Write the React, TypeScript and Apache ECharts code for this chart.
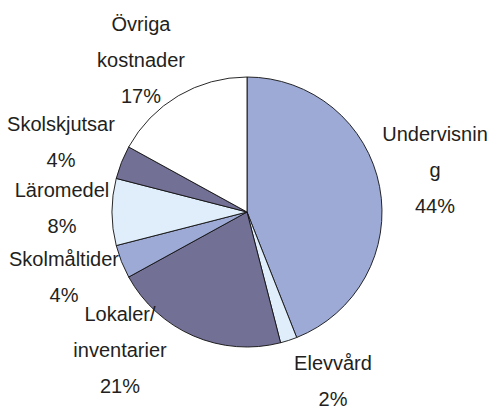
import React, { useEffect, useRef } from "react";
import * as echarts from "echarts";

const categories = [
  "Undervisnin\ng",
  "Elevvård",
  "Lokaler/\ninventarier",
  "Skolmåltider",
  "Läromedel",
  "Skolskjutsar",
  "Övriga\nkostnader",
];
const shares = [44, 2, 21, 4, 8, 4, 17];
const sliceColors = ["#9DAAD6", "#DFEEFA", "#737096", "#9DAAD6", "#DFEEFA", "#737096", "#FFFFFF"];
const labelCenters: [number, number][] = [
  [435, 170],
  [333, 381],
  [120, 350],
  [64, 277],
  [62, 208],
  [61, 142],
  [141, 60],
];

export default function App() {
  const ref = useRef<HTMLDivElement>(null);
  useEffect(() => {
    if (!ref.current) return;
    const chart = echarts.init(ref.current, undefined, { renderer: "svg" });
    chart.setOption({
      animation: false,
      backgroundColor: "#FFFFFF",
      series: [
        {
          type: "pie",
          center: [247, 212],
          radius: 135,
          startAngle: 90,
          clockwise: true,
          avoidLabelOverlap: false,
          itemStyle: { borderColor: "#111", borderWidth: 0.9 },
          label: {
            show: true,
            position: "outside",
            fontFamily: "'Liberation Sans', Arial, sans-serif",
            fontSize: 20,
            lineHeight: 36,
            color: "#231F20",
            align: "center",
            formatter: (p: any) => `${p.name}\n${Math.round(p.percent)}%`,
          },
          labelLine: { show: false },
          labelLayout: (p: any) => {
            const c = labelCenters[p.dataIndex];
            return { x: c[0], y: c[1], align: "center", verticalAlign: "middle" };
          },
          emphasis: { disabled: true },
          data: categories.map((name, i) => ({
            name,
            value: shares[i],
            itemStyle: { color: sliceColors[i] },
          })),
        },
      ],
    });
    return () => chart.dispose();
  }, []);
  return (
    <div
      ref={ref}
      style={{ position: "fixed", left: 0, top: 0, width: 491, height: 410 }}
    />
  );
}
